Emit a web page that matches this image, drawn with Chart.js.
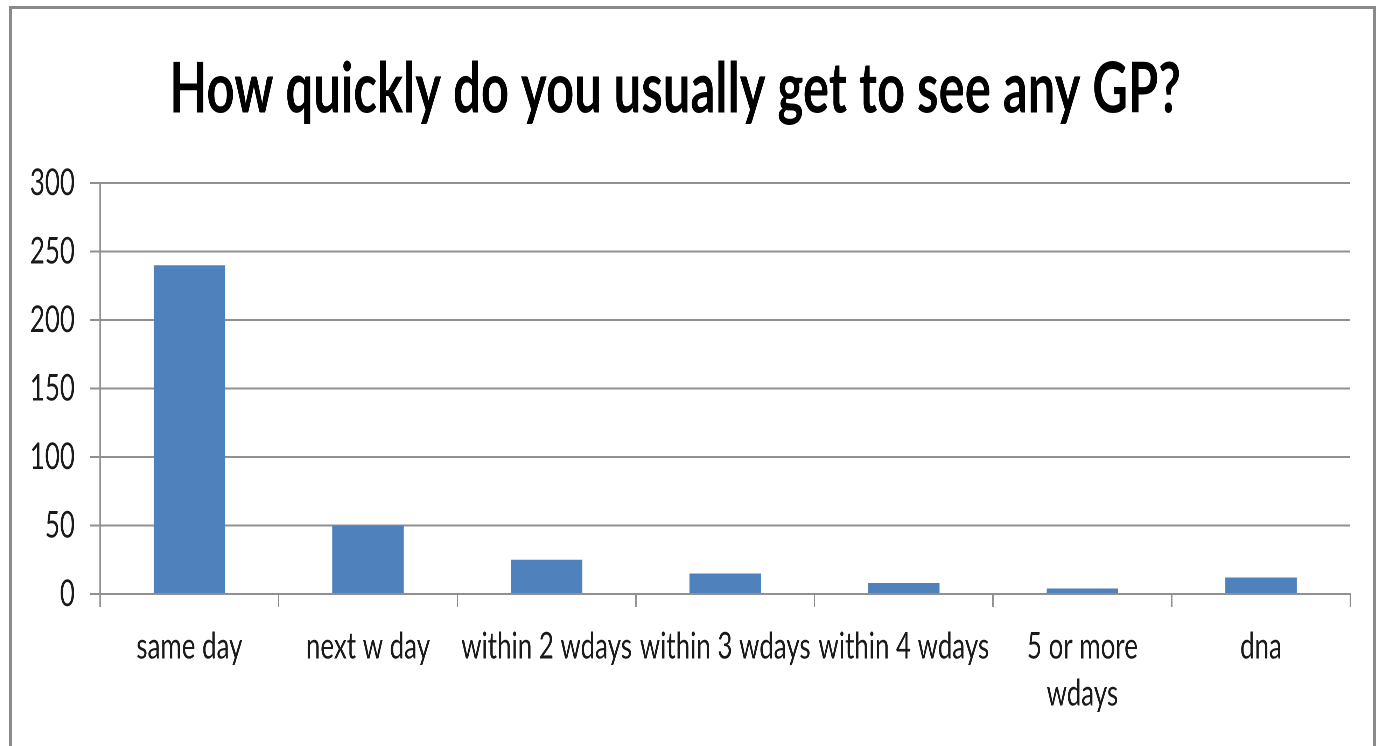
<!doctype html>
<html lang="en">
<head>
<meta charset="utf-8">
<title>How quickly do you usually get to see any GP?</title>
<script src="https://cdn.jsdelivr.net/npm/chart.js"></script>
<style>
  html, body { margin: 0; padding: 0; background: #fff; overflow: hidden; }
  #frame {
    position: absolute; left: 9px; top: 6px; width: 1367px; height: 780px;
    border: 3px solid #8a8a8a; box-sizing: border-box;
  }
  /* the reference text is tall and narrow, so squeeze the whole chart sideways */
  #wrap {
    position: absolute; left: 0; top: 0; width: 1974px; height: 746px;
    transform: scaleX(0.7); transform-origin: 0 0;
  }
</style>
</head>
<body>
<div id="frame"></div>
<div id="wrap"><canvas id="chart" width="1974" height="746"></canvas></div>
<script>
const categories = ['same day', 'next w day', 'within 2 wdays', 'within 3 wdays',
                    'within 4 wdays', ['5 or more', 'wdays'], 'dna'];
const responses = [240, 50, 25, 15, 8, 4, 12];
const yTicks = [0, 50, 100, 150, 200, 250, 300];

const gridGrey = '#909090';
const fontName = 'Lato, "Open Sans", sans-serif';

new Chart(document.querySelector('#chart'), {
  type: 'bar',
  data: {
    labels: categories,
    datasets: [{
      label: 'responses',
      data: responses,
      backgroundColor: '#4F81BD',
      barPercentage: 0.4,
      categoryPercentage: 1
    }]
  },
  options: {
    responsive: false,
    animation: false,
    devicePixelRatio: 2,
    layout: { padding: { top: 48, right: 45, left: 0, bottom: 0 } },
    plugins: {
      legend: { display: false },
      tooltip: { enabled: false },
      title: {
        display: true,
        text: 'How quickly do you usually get to see any GP?',
        color: '#000',
        font: { family: fontName, size: 70, weight: 'bold', lineHeight: 1.2 },
        padding: { top: 0, bottom: 51 }
      }
    },
    scales: {
      y: {
        min: 0,
        max: 300,
        afterFit: s => { s.width = 143; },
        afterBuildTicks: s => { s.ticks = yTicks.map(v => ({ value: v })); },
        grid: { color: gridGrey, lineWidth: 2, tickLength: 14 },
        border: { color: gridGrey, width: 2 },
        ticks: {
          color: '#1a1a1a',
          padding: 22,
          font: { family: fontName, size: 37 }
        }
      },
      x: {
        afterFit: s => { s.height = 152; },
        grid: { drawOnChartArea: false, color: gridGrey, lineWidth: 2, tickLength: 13, offset: true },
        border: { color: gridGrey, width: 2 },
        ticks: {
          color: '#1a1a1a',
          autoSkip: false,
          maxRotation: 0,
          minRotation: 0,
          padding: 16,
          font: { family: fontName, size: 37, lineHeight: 1.27 }
        }
      }
    }
  }
});
</script>
</body>
</html>
